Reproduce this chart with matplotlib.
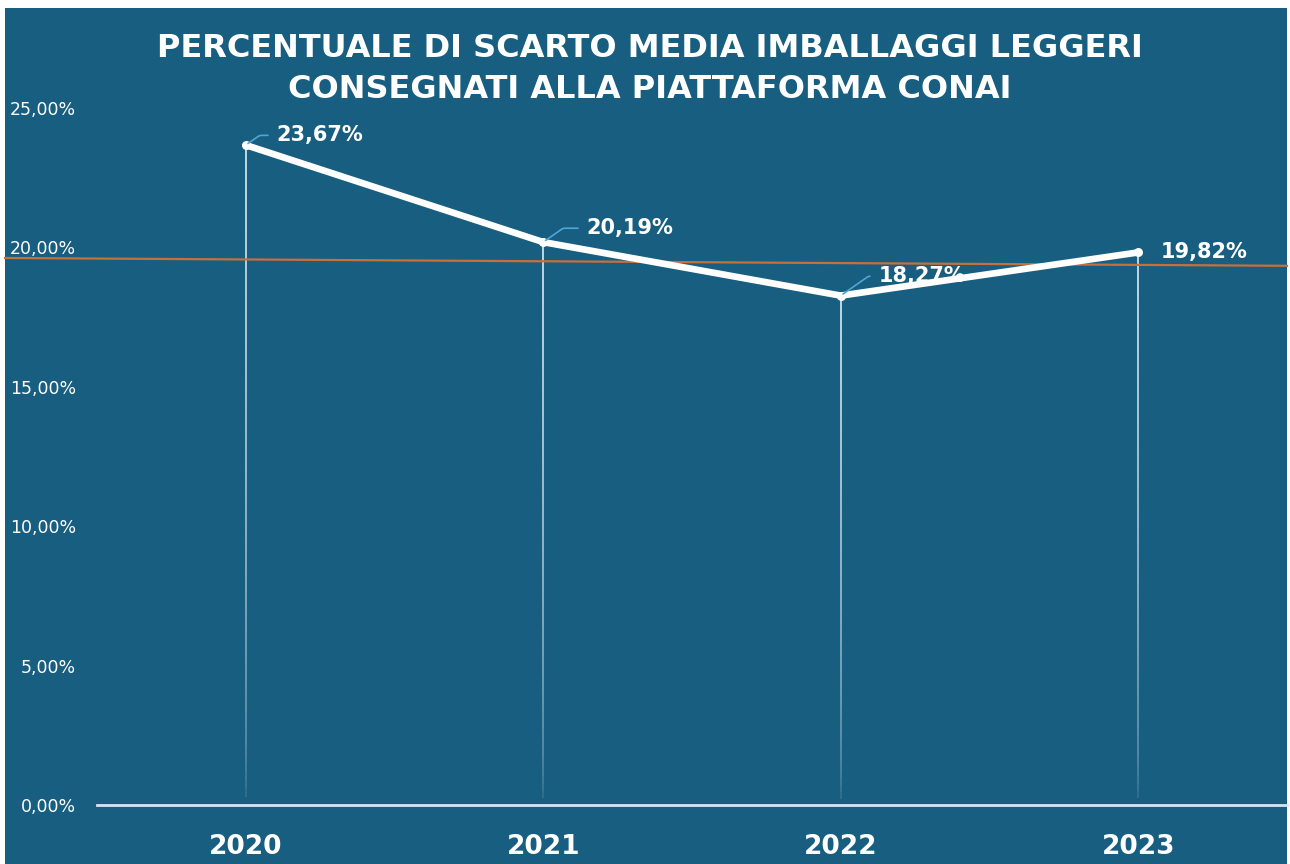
import matplotlib.pyplot as plt
import matplotlib.patches as patches
import matplotlib.transforms as mtransforms
from matplotlib.collections import LineCollection
import numpy as np

# dati
anni = ["2020", "2021", "2022", "2023"]
scarto = [23.67, 20.19, 18.27, 19.82]
etichette = ["23,67%", "20,19%", "18,27%", "19,82%"]
yticks = [0, 5, 10, 15, 20, 25]
ytick_labels = ["0,00%", "5,00%", "10,00%", "15,00%", "20,00%", "25,00%"]
linea_rif = [19.62, 19.34]  # linea arancione (inizio, fine)

titolo = "PERCENTUALE DI SCARTO MEDIA IMBALLAGGI LEGGERI\nCONSEGNATI ALLA PIATTAFORMA CONAI"

blu = "#175e80"
bianco = "#ffffff"
azzurro = "#4fa6d6"
arancio = "#c8703a"

fig = plt.figure(figsize=(12.9, 8.64), dpi=100, facecolor="white")
# sfondo blu con bordo bianco
fig.patches.append(patches.Rectangle((5 / 1290, 0), 1282 / 1290, 1 - 8 / 864,
                                     transform=fig.transFigure, facecolor=blu,
                                     edgecolor="none", zorder=-10))

ax = fig.add_axes([97 / 1290, 1 - 805 / 864, 1190 / 1290, (805 - 108) / 864])
ax.set_facecolor("none")

x = np.arange(len(anni))

# linee verticali sfumate
for xi, v in zip(x, scarto):
    ys = np.linspace(0, v, 80)
    segs = [[(xi, ys[i]), (xi, ys[i + 1])] for i in range(len(ys) - 1)]
    alphas = (ys[:-1] / v) ** 0.45
    cols = [(0.88, 0.93, 0.97, a) for a in alphas]
    ax.add_collection(LineCollection(segs, colors=cols, linewidths=1.2, zorder=2))

# linea arancione
tr = mtransforms.blended_transform_factory(fig.transFigure, ax.transData)
ax.plot([5 / 1290, 1287 / 1290], linea_rif, color=arancio, lw=1.6,
        transform=tr, clip_on=False, zorder=3)

# linea dati
ax.plot(x, scarto, color=bianco, lw=4.8, solid_capstyle="round",
        solid_joinstyle="round", zorder=4, clip_on=False)
ax.scatter(x, scarto, s=30, color=bianco, zorder=5, clip_on=False)

# etichette con linee guida
offsets = [(22, 7), (31, 10), (27, 14), (16, 0)]
for i, (xi, v, lab) in enumerate(zip(x, scarto, etichette)):
    dx, dy = offsets[i]
    if i < 3:
        ax.annotate(lab, xy=(xi, v), xytext=(dx, dy), textcoords="offset points",
                    ha="left", va="center", color=bianco, fontsize=15,
                    fontweight="bold", zorder=6,
                    arrowprops=dict(arrowstyle="-", color=azzurro, lw=1.2,
                                    connectionstyle="angle,angleA=0,angleB=35,rad=2",
                                    relpos=(0, 0.5), shrinkA=4, shrinkB=2))
    else:
        ax.annotate(lab, xy=(xi, v), xytext=(dx, dy), textcoords="offset points",
                    ha="left", va="center", color=bianco, fontsize=15,
                    fontweight="bold", zorder=6)

ax.set_xlim(-0.5, 3.5)
ax.set_ylim(0, 25)
ax.set_xticks(x)
ax.set_xticklabels(anni, fontsize=19, fontweight="heavy", color=bianco)
ax.set_yticks(yticks)
ax.set_yticklabels(ytick_labels, fontsize=12.5, color=bianco)
ax.tick_params(axis="x", length=0, pad=21)
ax.tick_params(axis="y", length=0, pad=15)

for s in ["top", "right", "left"]:
    ax.spines[s].set_visible(False)
ax.spines["bottom"].set_color("#d6e6f0")
ax.spines["bottom"].set_linewidth(2)
ax.spines["bottom"].set_zorder(3)

fig.text(650 / 1290, 1 - 69 / 864, titolo, ha="center", va="center",
         multialignment="center", color=bianco, fontsize=23, fontweight="heavy",
         linespacing=1.45)

fig.savefig("out.png", dpi=100, facecolor=fig.get_facecolor())
